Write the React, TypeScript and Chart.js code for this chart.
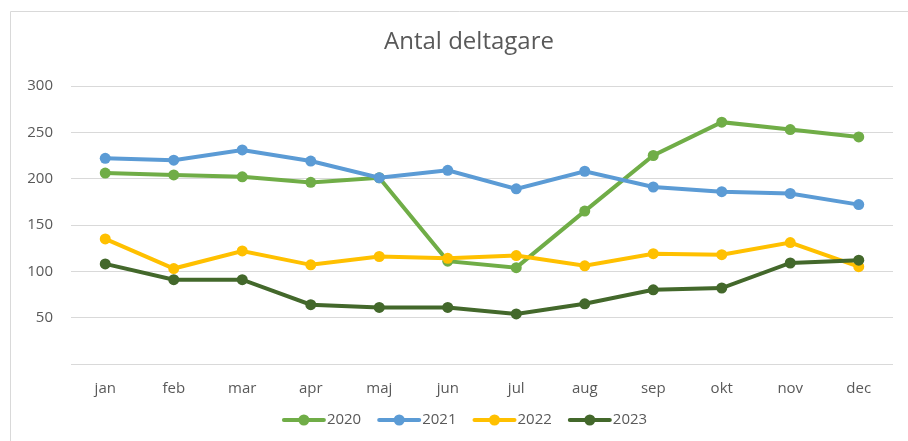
import React, { useEffect, useRef } from 'react';
import { Chart, registerables } from 'chart.js';

Chart.register(...registerables);

const months = ['jan', 'feb', 'mar', 'apr', 'maj', 'jun', 'jul', 'aug', 'sep', 'okt', 'nov', 'dec'];
const seriesNames = ['2020', '2021', '2022', '2023'];
const values2020 = [206, 204, 202, 196, 201, 111, 104, 165, 225, 261, 253, 245];
const values2021 = [222, 220, 231, 219, 201, 209, 189, 208, 191, 186, 184, 172];
const values2022 = [135, 103, 122, 107, 116, 114, 117, 106, 119, 118, 131, 105];
const values2023 = [108, 91, 91, 64, 61, 61, 54, 65, 80, 82, 109, 112];
const yMin = 0;
const yMax = 300;
const yStep = 50;
const title = 'Antal deltagare';

const colors = ['#70AD47', '#5B9BD5', '#FFC000', '#43682B'];
const FONT = "'Open Sans', sans-serif";
const TEXT = '#595959';
const GRID = '#D9D9D9';

const framePlugin = {
  id: 'frame',
  beforeDraw(chart: any) {
    const ctx = chart.ctx;
    ctx.save();
    ctx.strokeStyle = '#D9D9D9';
    ctx.lineWidth = 1;
    ctx.beginPath();
    ctx.moveTo(10.5, 441);
    ctx.lineTo(10.5, 11.5);
    ctx.lineTo(908, 11.5);
    ctx.stroke();
    ctx.restore();
  },
};

const titlePlugin = {
  id: 'customTitle',
  afterDraw(chart: any) {
    const ctx = chart.ctx;
    ctx.save();
    ctx.font = `24px ${FONT}`;
    ctx.fillStyle = TEXT;
    ctx.textAlign = 'center';
    ctx.textBaseline = 'middle';
    ctx.fillText(title, 469, 42);
    ctx.restore();
  },
};

const legendPlugin = {
  id: 'customLegend',
  afterDraw(chart: any) {
    const ctx = chart.ctx;
    ctx.save();
    ctx.font = `15px ${FONT}`;
    const lineW = 42;
    const gap = 2;
    const spacing = 17;
    const items = chart.data.datasets.map((ds: any) => ({
      label: ds.label,
      color: ds.borderColor,
      w: lineW + gap + ctx.measureText(ds.label).width,
    }));
    const total = items.reduce((s: number, i: any) => s + i.w, 0) + spacing * (items.length - 1);
    let x = 465 - total / 2;
    const y = 420;
    items.forEach((it: any) => {
      ctx.strokeStyle = it.color;
      ctx.lineWidth = 4;
      ctx.lineCap = 'round';
      ctx.beginPath();
      ctx.moveTo(x + 1, y);
      ctx.lineTo(x + lineW - 1, y);
      ctx.stroke();
      ctx.fillStyle = it.color;
      ctx.beginPath();
      ctx.arc(x + lineW / 2, y, 5.5, 0, Math.PI * 2);
      ctx.fill();
      ctx.fillStyle = TEXT;
      ctx.textBaseline = 'middle';
      ctx.textAlign = 'left';
      ctx.fillText(it.label, x + lineW + gap, y);
      x += it.w + spacing;
    });
    ctx.restore();
  },
};

export default function App() {
  const canvasRef = useRef<HTMLCanvasElement | null>(null);

  useEffect(() => {
    const canvas = canvasRef.current;
    if (!canvas) return;
    const allValues = [values2020, values2021, values2022, values2023];
    const chart = new Chart(canvas, {
      type: 'line',
      data: {
        labels: months,
        datasets: seriesNames.map((name, i) => ({
          label: name,
          data: allValues[i],
          borderColor: colors[i],
          backgroundColor: colors[i],
          pointBackgroundColor: colors[i],
          pointBorderColor: colors[i],
          borderWidth: 4,
          pointRadius: 5.5,
          pointBorderWidth: 0,
          tension: 0,
          order: 4 - i,
        })),
      },
      options: {
        responsive: false,
        animation: false,
        devicePixelRatio: 1,
        layout: { padding: { left: 0, right: 15, top: 86, bottom: 43 } },
        plugins: {
          legend: { display: false },
          tooltip: { enabled: false },
          title: { display: false },
        },
        scales: {
          x: {
            offset: true,
            grid: { display: false, drawTicks: false, offset: true },
            border: { display: false },
            ticks: { color: TEXT, font: { family: FONT, size: 15 }, padding: 16, maxRotation: 0 },
            afterFit(scale: any) {
              scale.height = 34;
            },
          },
          y: {
            min: yMin,
            max: yMax,
            grid: { color: GRID, lineWidth: 1, drawTicks: false },
            border: { display: false },
            ticks: {
              stepSize: yStep,
              color: TEXT,
              font: { family: FONT, size: 15 },
              padding: 18,
              callback: (v: any) => (v === 0 ? '' : String(v)),
            },
            afterFit(scale: any) {
              scale.width = 71;
            },
          },
        },
      },
      plugins: [framePlugin, titlePlugin, legendPlugin],
    });
    return () => chart.destroy();
  }, []);

  return (
    <div style={{ position: 'absolute', left: 0, top: 0, width: 908, height: 441, background: '#fff' }}>
      <canvas ref={canvasRef} width={908} height={441} style={{ display: 'block' }} />
    </div>
  );
}
